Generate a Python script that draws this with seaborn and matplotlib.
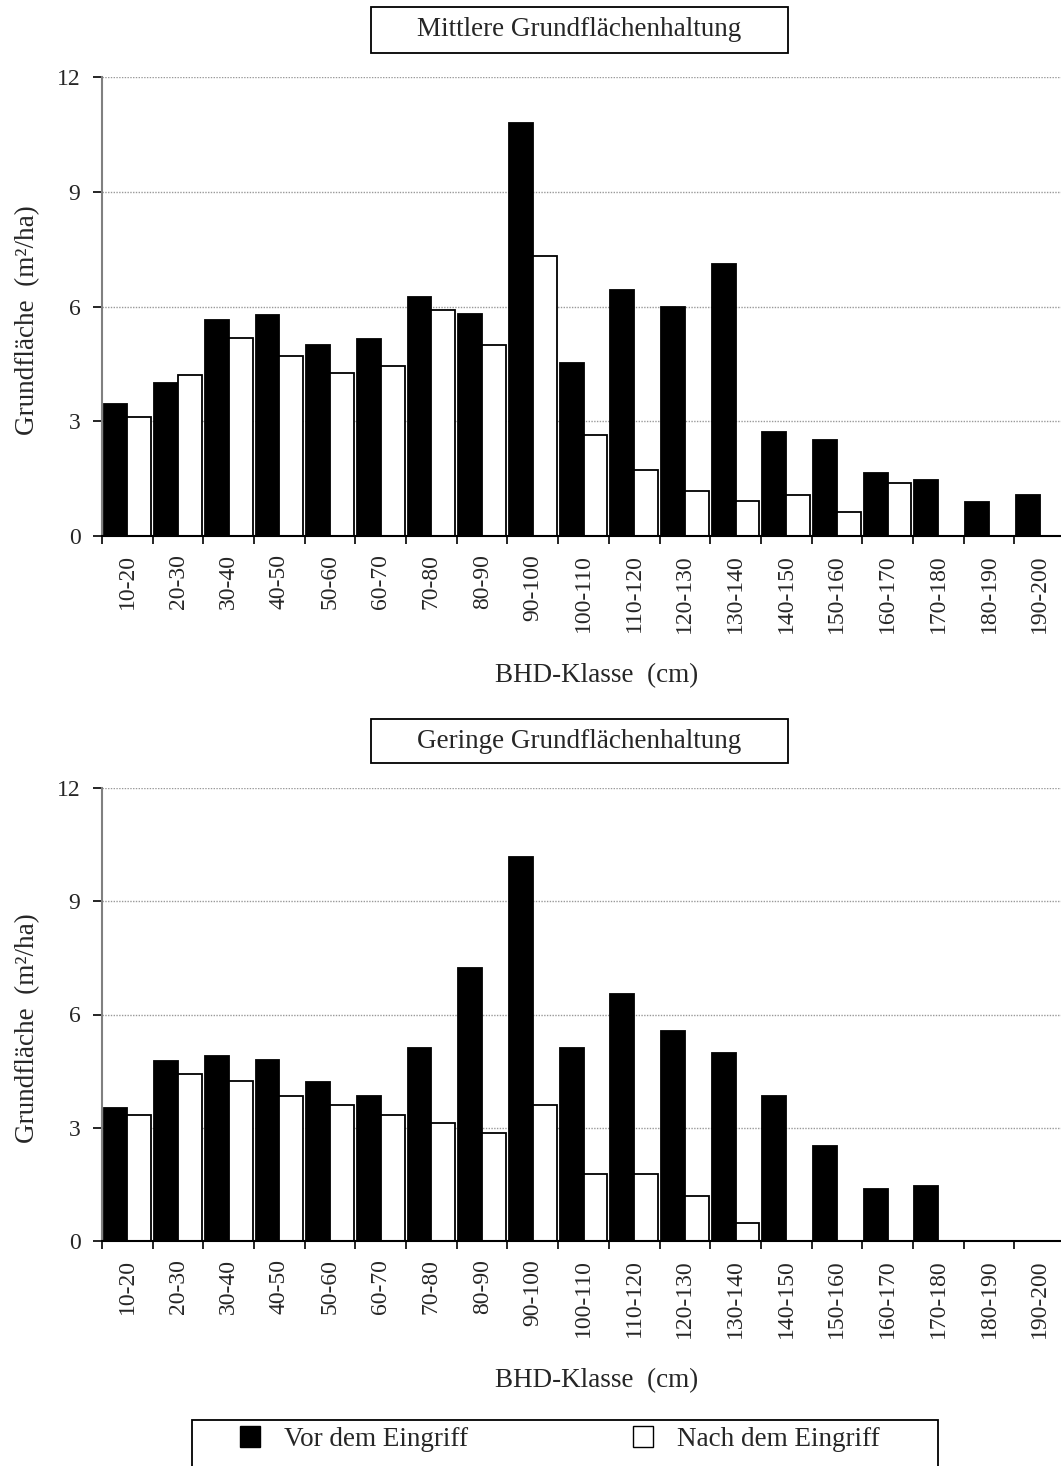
import numpy as np
import pandas as pd
import matplotlib
matplotlib.use("Agg")
import matplotlib.pyplot as plt
from matplotlib.patches import Patch, Rectangle
import seaborn as sns

# ---------------- data ----------------
classes = ["10-20", "20-30", "30-40", "40-50", "50-60", "60-70", "70-80",
           "80-90", "90-100", "100-110", "110-120", "120-130", "130-140",
           "140-150", "150-160", "160-170", "170-180", "180-190", "190-200"]

mittel_vor = [3.45, 3.99, 5.66, 5.77, 4.99, 5.15, 6.24, 5.80, 10.79, 4.53,
              6.43, 5.99, 7.11, 2.71, 2.52, 1.66, 1.47, 0.89, 1.06]
mittel_nach = [3.10, 4.20, 5.17, 4.70, 4.27, 4.44, 5.91, 4.99, 7.31, 2.65,
               1.72, 1.17, 0.92, 1.06, 0.62, 1.39, 0.0, 0.0, 0.0]

gering_vor = [3.53, 4.76, 4.90, 4.79, 4.21, 3.84, 5.12, 7.22, 10.16, 5.12,
              6.53, 5.55, 4.97, 3.85, 2.52, 1.39, 1.46, 0.0, 0.0]
gering_nach = [3.33, 4.42, 4.24, 3.84, 3.59, 3.33, 3.12, 2.87, 3.59, 1.78,
               1.78, 1.20, 0.47, 0.0, 0.0, 0.0, 0.0, 0.0, 0.0]

series_names = ["Vor dem Eingriff", "Nach dem Eingriff"]
titles = ["Mittlere Grundflächenhaltung", "Geringe Grundflächenhaltung"]
yticks = [0, 3, 6, 9, 12]
xlabel = "BHD-Klasse  (cm)"
ylabel = "Grundfläche  (m²/ha)"

# ---------------- style ----------------
sns.set_theme(style="white")
plt.rcParams["font.family"] = ["Liberation Serif", "DejaVu Serif"]
plt.rcParams["mathtext.fontset"] = "stix"

W, H = 1061, 1466
fig = plt.figure(figsize=(W / 100, H / 100), dpi=100)


def fx(px):
    return px / W


def fy(py):
    return 1 - py / H


def make_df(vor, nach):
    return pd.DataFrame({
        "Klasse": classes * 2,
        "Wert": list(vor) + list(nach),
        "Zeitpunkt": [series_names[0]] * len(classes) + [series_names[1]] * len(classes),
    })


panels = [
    (make_df(mittel_vor, mittel_nach), (77, 536), (7, 53), titles[0]),
    (make_df(gering_vor, gering_nach), (788, 1241), (719, 763), titles[1]),
]

for df, (ytop, ybot), (btop, bbot), title in panels:
    ax = fig.add_axes([fx(102), fy(ybot), fx(1065) - fx(102), (ybot - ytop) / H])
    sns.barplot(data=df, x="Klasse", y="Wert", hue="Zeitpunkt", order=classes,
                hue_order=series_names, palette=["black", "white"], saturation=1,
                edgecolor="black", linewidth=1.3, width=0.94, errorbar=None,
                legend=False, ax=ax)
    ax.set_xlim(-0.5, len(classes) - 0.5)
    ax.set_ylim(0, 12)
    ax.set_yticks(yticks)
    ax.set_yticklabels([str(t) for t in yticks], fontsize=17)
    ax.tick_params(axis="y", which="major", length=6.5, width=1.2, pad=9,
                   color="black", left=True, direction="out")

    # boundaries as major ticks, labels on minor ticks
    ax.set_xticks(np.arange(-0.5, len(classes), 1.0))
    ax.set_xticklabels([])
    ax.set_xticks(np.arange(len(classes)), minor=True)
    ax.set_xticklabels(classes, minor=True, rotation=90, fontsize=17)
    ax.tick_params(axis="x", which="major", length=6, width=1.2, color="black",
                   bottom=True, direction="out")
    ax.tick_params(axis="x", which="minor", length=0, pad=13, bottom=True)

    ax.set_axisbelow(True)
    ax.yaxis.grid(True, linestyle=(0, (1, 1)), color="#999999", linewidth=1.0)
    ax.xaxis.grid(False)
    for s in ["top", "right"]:
        ax.spines[s].set_visible(False)
    ax.spines["left"].set_color("#808080")
    ax.spines["left"].set_linewidth(1.5)
    ax.spines["bottom"].set_color("black")
    ax.spines["bottom"].set_linewidth(1.5)
    ax.set_facecolor("white")

    ax.set_xlabel(xlabel, fontsize=19.5)
    ax.xaxis.set_label_coords((597 - 102) / (1065 - 102), -(676 - ybot) / (ybot - ytop),
                              transform=None) if False else None
    ax.xaxis.set_label_coords((597 - 102) / (1065 - 102), -(676 - 536) / (ybot - ytop))
    ax.xaxis.label.set_verticalalignment("center")
    ax.set_ylabel(ylabel, fontsize=19.5)
    ax.yaxis.set_label_coords(-(102 - 28) / (1065 - 102), 0.47)
    ax.yaxis.label.set_verticalalignment("center")

    # title box
    fig.add_artist(Rectangle((fx(371), fy(bbot)), fx(788) - fx(371), (bbot - btop) / H,
                             transform=fig.transFigure, facecolor="white",
                             edgecolor="black", linewidth=1.3))
    fig.text(fx(579.5), fy((btop + bbot) / 2), title, ha="center", va="center",
             fontsize=19.5)

# legend
handles = [Patch(facecolor="black", edgecolor="black"),
           Patch(facecolor="white", edgecolor="black", linewidth=1.0)]
fig.legend(handles=handles, labels=series_names, loc="upper left",
           bbox_to_anchor=(fx(240), fy(1426)), ncol=2, frameon=False,
           fontsize=19.5, borderpad=0, borderaxespad=0, handlelength=0.75,
           handleheight=0.8, handletextpad=0.86, columnspacing=6.1)
fig.add_artist(Rectangle((fx(192), -0.01), fx(938) - fx(192), (1466 - 1420) / H + 0.01,
                         transform=fig.transFigure, fill=False, edgecolor="black",
                         linewidth=1.3, clip_on=False))

fig.savefig("out.png", dpi=100, facecolor="white")
